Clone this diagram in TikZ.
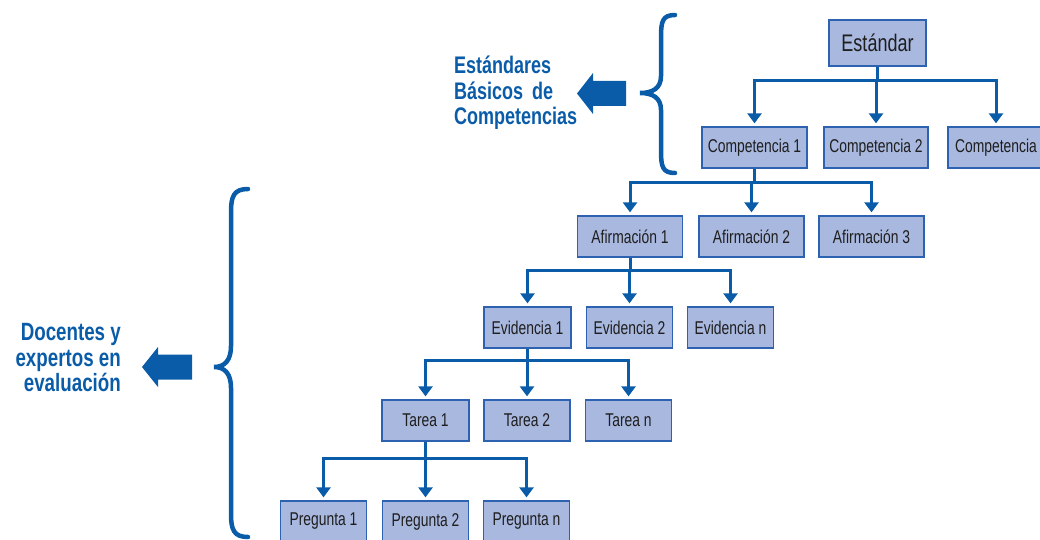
\documentclass[tikz,border=0pt]{standalone}
\usepackage{fontspec}
\setmainfont{Liberation Sans}[FakeStretch=0.75]
\usetikzlibrary{arrows.meta}
\definecolor{boxfill}{HTML}{A9B8DF}
\definecolor{boxdraw}{HTML}{2D62B0}
\definecolor{linkblue}{HTML}{0B5CA8}
\definecolor{txt}{HTML}{1E1E1E}
\begin{document}
\begin{tikzpicture}[x=1pt,y=-1pt,
  box/.style={draw=boxdraw, line width=1.3pt, fill=boxfill, text=txt, inner sep=0pt,
    minimum height=41pt, font=\fontsize{18.5}{20}\selectfont},
  wide/.style={box, minimum width=105pt},
  narrow/.style={box, minimum width=86pt},
  link/.style={draw=linkblue, line width=3pt},
  arr/.style={link, -{Triangle[width=14pt,length=10pt]}, shorten >=3pt},
  brace/.style={draw=linkblue, line width=4.5pt, line cap=round},
  blockarrow/.style={fill=linkblue, draw=none},
  biglabel/.style={text=linkblue, font=\fontsize{24}{25.5}\selectfont\bfseries, inner sep=0pt}
]
\useasboundingbox (0,0) rectangle (1040,540);

% bus levels
\coordinate (b0) at (0,81);
\coordinate (b1) at (0,182);
\coordinate (b2) at (0,270);
\coordinate (b3) at (0,360);
\coordinate (b4) at (0,458);

% boxes
\node[box, minimum width=97pt, minimum height=46pt, font=\fontsize{24}{26}\selectfont] (est) at (877.5,43) {Estándar};
\node[wide] (c1) at (754.5,147.5) {Competencia 1};
\node[wide, minimum width=104pt] (c2) at (876,147.5) {Competencia 2};
\node[wide, minimum width=96pt] (c3) at (996,147.5) {Competencia};

\node[wide] (a1) at (630,236.5) {Afirmación 1};
\node[wide] (a2) at (751.5,236.5) {Afirmación 2};
\node[wide] (a3) at (871.5,236.5) {Afirmación 3};

\node[narrow, minimum width=87pt] (e1) at (527.5,327.5) {Evidencia 1};
\node[narrow] (e2) at (629.5,327.5) {Evidencia 2};
\node[narrow] (e3) at (730.5,327.5) {Evidencia n};

\node[narrow, minimum width=87pt] (t1) at (425.5,420.5) {Tarea 1};
\node[narrow] (t2) at (527,420.5) {Tarea 2};
\node[narrow] (t3) at (628.5,420.5) {Tarea n};

\node[narrow] (p1) at (323.5,521.5) {Pregunta 1};
\node[narrow] (p2) at (425.5,521.5) {Pregunta 2};
\node[narrow] (p3) at (526.5,521.5) {Pregunta n};

% connectors: Estándar
\draw[link] (est.south) -- (est.south |- b0);
\draw[arr] (est.south |- b0) -| (c1.north);
\draw[arr] (est.south |- b0) -| (c3.north);
\draw[arr] (c2.north |- b0) -- (c2.north);

% Competencia 1
\draw[link] (c1.south) -- (c1.south |- b1);
\draw[arr] (c1.south |- b1) -| (a1.north);
\draw[arr] (c1.south |- b1) -| (a3.north);
\draw[arr] (a2.north |- b1) -- (a2.north);

% Afirmación 1
\draw[link] (a1.south) -- (a1.south |- b2);
\draw[arr] (a1.south |- b2) -| (e1.north);
\draw[arr] (a1.south |- b2) -| (e3.north);
\draw[arr] (e2.north |- b2) -- (e2.north);

% Evidencia 1
\draw[link] (e1.south) -- (e1.south |- b3);
\draw[arr] (e1.south |- b3) -| (t1.north);
\draw[arr] (e1.south |- b3) -| (t3.north);
\draw[arr] (t2.north |- b3) -- (t2.north);

% Tarea 1
\draw[link] (t1.south) -- (t1.south |- b4);
\draw[arr] (t1.south |- b4) -| (p1.north);
\draw[arr] (t1.south |- b4) -| (p3.north);
\draw[arr] (p2.north |- b4) -- (p2.north);

% braces
\draw[brace] (675,15) .. controls (662,15) and (661,22) .. (661,38) -- (661,76)
  .. controls (661,88) and (653,93) .. (640,93)
  .. controls (653,93) and (661,98) .. (661,110) -- (661,150)
  .. controls (661,166) and (662,173) .. (675,173);
\draw[brace] (248,189) .. controls (234,189) and (231,196) .. (231,212) -- (231,346)
  .. controls (231,360) and (225,367) .. (214,367)
  .. controls (225,367) and (231,374) .. (231,388) -- (231,514)
  .. controls (231,530) and (234,537) .. (248,537);

% block arrows
\fill[blockarrow] (577,93.5) -- (593,73) -- (593,81) -- (626,81) -- (626,106) -- (593,106) -- (593,114) -- cycle;
\fill[blockarrow] (142,367) -- (158,347) -- (158,354.5) -- (192,354.5) -- (192,379.5) -- (158,379.5) -- (158,387) -- cycle;

% labels
\node[biglabel, align=left, anchor=west] (lab1) at (454,93) {Estándares\\\hbox to 99pt{Básicos\hfill de}\\Competencias};
\node[biglabel, align=right, anchor=east, font=\fontsize{25}{25.5}\selectfont\bfseries] (lab2) at (121,358) {Docentes y\\expertos en\\evaluación};
\end{tikzpicture}
\end{document}
